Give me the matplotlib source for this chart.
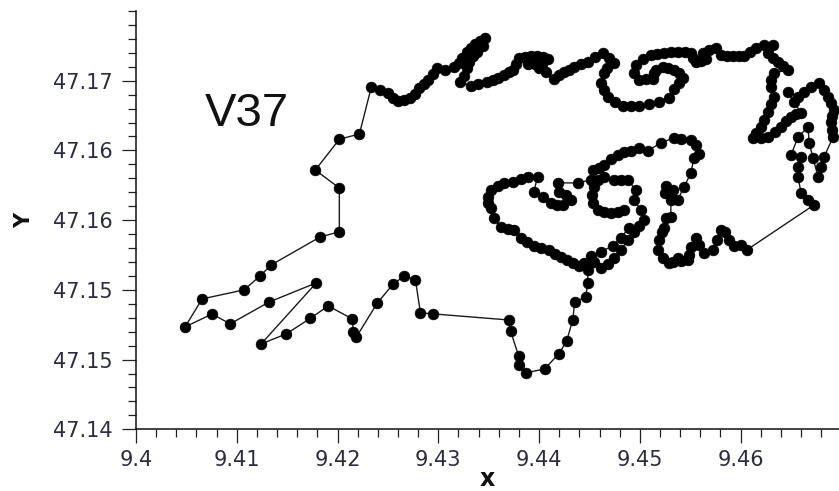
import matplotlib
matplotlib.use('Agg')
import matplotlib.pyplot as plt
from matplotlib.ticker import MultipleLocator, FixedLocator


# ---------------------------------------------------------------------------
# Track V37 (longitude / latitude)
# ---------------------------------------------------------------------------

LON = [
    9.44841, 9.44781, 9.44711, 9.44642, 9.44582, 9.44533, 9.44523, 9.44542,
    9.44582, 9.44642, 9.44741, 9.44811, 9.44880, 9.44960, 9.44940, 9.45010,
    9.45039, 9.44990, 9.44940, 9.44880, 9.44811, 9.44741, 9.44682, 9.44612,
    9.44542, 9.44483, 9.44483, 9.44463, 9.44354, 9.44334, 9.44274, 9.44195,
    9.44055, 9.43867, 9.43797, 9.43797, 9.43717, 9.43698, 9.42952, 9.42823,
    9.42773, 9.42664, 9.42554, 9.42395, 9.42187, 9.42157, 9.42147, 9.41908,
    9.41729, 9.41491, 9.41242, 9.41789, 9.41322, 9.40934, 9.40755, 9.40487,
    9.40656, 9.41073, 9.41232, 9.41342, 9.41829, 9.42018, 9.42018, 9.41779,
    9.42018, 9.42217, 9.42336,
    # top edge, heading east
    9.42425, 9.42505, 9.42554, 9.42604, 9.42664, 9.42723, 9.42773, 9.42813,
    9.42863, 9.42902, 9.42952, 9.42992, 9.43071, 9.43151, 9.43201, 9.43240,
    9.43280, 9.43320, 9.43360, 9.43409, 9.43459, 9.43439, 9.43389, 9.43340,
    9.43300, 9.43280, 9.43260, 9.43220, 9.43320, 9.43399, 9.43479, 9.43539,
    9.43588, 9.43648, 9.43698, 9.43737, 9.43767, 9.43797, 9.43857, 9.43916,
    9.43976, 9.44036, 9.44085, 9.44026, 9.43956, 9.43886, 9.43996, 9.44065,
    9.44145, 9.44195, 9.44244, 9.44294, 9.44344, 9.44413, 9.44483, 9.44552,
    9.44632, 9.44692, 9.44741, 9.44672, 9.44642, 9.44612, 9.44642, 9.44682,
    9.44751, 9.44831, 9.44910, 9.44990, 9.45089, 9.45189, 9.45288, 9.45338,
    9.45387, 9.45427, 9.45387, 9.45338, 9.45278, 9.45228, 9.45159, 9.45139,
    9.45129, 9.45059, 9.44990, 9.44940, 9.44960, 9.45029, 9.45109, 9.45169,
    9.45238, 9.45308, 9.45377, 9.45447, 9.45507, 9.45527, 9.45556, 9.45606,
    9.45656, 9.45626, 9.45686, 9.45755, 9.45805, 9.45864, 9.45924, 9.45984,
    9.46033, 9.46093, 9.46153, 9.46232, 9.46322, 9.46272, 9.46322, 9.46371,
    9.46421, 9.46471, 9.46332, 9.46302, 9.46302, 9.46332, 9.46302, 9.46272,
    9.46232, 9.46202, 9.46153, 9.46123, 9.46202, 9.46272, 9.46342, 9.46401,
    9.46451, 9.46501, 9.46550, 9.46600, 9.46530, 9.46471, 9.46570, 9.46630,
    9.46699, 9.46779, 9.46829, 9.46868, 9.46898, 9.46928, 9.46908, 9.46898,
    9.46908, 9.46918, 9.46829, 9.46799, 9.46769, 9.46719, 9.46680, 9.46670,
    9.46570, 9.46501, 9.46600, 9.46570, 9.46570, 9.46600, 9.46670, 9.46729,
    # bottom right wiggle and middle loops
    9.46063, 9.46004, 9.45934, 9.45884, 9.45845, 9.45805, 9.45765, 9.45725,
    9.45636, 9.45586, 9.45556, 9.45507, 9.45487, 9.45477, 9.45407, 9.45377,
    9.45328, 9.45288, 9.45228, 9.45179, 9.45189, 9.45218, 9.45238, 9.45258,
    9.45308, 9.45308, 9.45248, 9.45258, 9.45328, 9.45377, 9.45437, 9.45507,
    9.45536, 9.45586, 9.45556, 9.45507, 9.45407, 9.45338, 9.45208, 9.45079,
    9.44990, 9.44910, 9.44841, 9.44781, 9.44711, 9.44642, 9.44592, 9.44533,
    9.44513, 9.44384, 9.44185, 9.44195, 9.44264, 9.44314, 9.44234, 9.44175,
    9.44115, 9.44036, 9.43946, 9.43986, 9.43886, 9.43817, 9.43737, 9.43648,
    9.43588, 9.43519, 9.43489, 9.43489, 9.43519, 9.43548, 9.43618, 9.43688,
    9.43747, 9.43817, 9.43876, 9.43946, 9.44016, 9.44095, 9.44155, 9.44215,
    9.44274, 9.44334, 9.44394, 9.44444, 9.44513, 9.44612, 9.44731, 9.44811,
    9.44890,
]

LAT = [
    47.15573, 47.15559, 47.15552, 47.15559, 47.15573, 47.15624, 47.15681, 47.15738,
    47.15789, 47.15810, 47.15789, 47.15789, 47.15789, 47.15717, 47.15645, 47.15573,
    47.15502, 47.15459, 47.15416, 47.15358, 47.15287, 47.15229, 47.15186, 47.15157,
    47.15200, 47.15143, 47.15050, 47.14949, 47.14913, 47.14784, 47.14633, 47.14540,
    47.14433, 47.14404, 47.14462, 47.14526, 47.14705, 47.14784, 47.14827, 47.14835,
    47.15071, 47.15100, 47.15043, 47.14906, 47.14662, 47.14698, 47.14791, 47.14885,
    47.14795, 47.14684, 47.14612, 47.15050, 47.14913, 47.14756, 47.14827, 47.14734,
    47.14935, 47.15000, 47.15100, 47.15179, 47.15380, 47.15416, 47.15731, 47.15859,
    47.16080, 47.16118, 47.16456,
    # top edge, heading east
    47.16434, 47.16413, 47.16377, 47.16356, 47.16363, 47.16377, 47.16406, 47.16449,
    47.16477, 47.16506, 47.16549, 47.16592, 47.16578, 47.16599, 47.16628, 47.16664,
    47.16707, 47.16736, 47.16764, 47.16786, 47.16807, 47.16750, 47.16707, 47.16678,
    47.16635, 47.16592, 47.16535, 47.16492, 47.16463, 47.16477, 47.16492, 47.16506,
    47.16520, 47.16542, 47.16563, 47.16578, 47.16620, 47.16664, 47.16671, 47.16678,
    47.16678, 47.16671, 47.16656, 47.16620, 47.16620, 47.16620, 47.16592, 47.16563,
    47.16513, 47.16542, 47.16563, 47.16578, 47.16599, 47.16620, 47.16635, 47.16671,
    47.16700, 47.16664, 47.16628, 47.16592, 47.16556, 47.16485, 47.16434, 47.16384,
    47.16348, 47.16320, 47.16320, 47.16320, 47.16334, 47.16348, 47.16377, 47.16442,
    47.16485, 47.16520, 47.16556, 47.16578, 47.16592, 47.16599, 47.16578, 47.16556,
    47.16513, 47.16513, 47.16506, 47.16556, 47.16613, 47.16656, 47.16685, 47.16693,
    47.16700, 47.16707, 47.16707, 47.16707, 47.16700, 47.16664, 47.16635, 47.16642,
    47.16656, 47.16700, 47.16721, 47.16736, 47.16685, 47.16678, 47.16678, 47.16678,
    47.16678, 47.16707, 47.16736, 47.16757, 47.16757, 47.16700, 47.16664, 47.16635,
    47.16606, 47.16578, 47.16556, 47.16506, 47.16456, 47.16384, 47.16334, 47.16276,
    47.16219, 47.16168, 47.16126, 47.16090, 47.16090, 47.16097, 47.16133, 47.16168,
    47.16212, 47.16241, 47.16262, 47.16269, 47.16348, 47.16420, 47.16384, 47.16420,
    47.16456, 47.16485, 47.16434, 47.16384, 47.16341, 47.16291, 47.16248, 47.16205,
    47.16147, 47.16097, 47.15954, 47.15882, 47.15810, 47.15945, 47.16054, 47.16168,
    47.16097, 47.15968, 47.15954, 47.15882, 47.15810, 47.15695, 47.15645, 47.15609,
    # bottom right wiggle and middle loops
    47.15287, 47.15322, 47.15316, 47.15358, 47.15412, 47.15430, 47.15358, 47.15287,
    47.15265, 47.15322, 47.15373, 47.15308, 47.15251, 47.15216, 47.15209, 47.15229,
    47.15200, 47.15193, 47.15229, 47.15287, 47.15358, 47.15412, 47.15444, 47.15516,
    47.15524, 47.15645, 47.15695, 47.15748, 47.15717, 47.15645, 47.15738, 47.15836,
    47.15945, 47.15971, 47.16038, 47.16076, 47.16080, 47.16090, 47.16054, 47.15998,
    47.16014, 47.15998, 47.15992, 47.15970, 47.15935, 47.15899, 47.15871, 47.15858,
    47.15789, 47.15767, 47.15767, 47.15702, 47.15681, 47.15645, 47.15609, 47.15609,
    47.15624, 47.15667, 47.15702, 47.15810, 47.15810, 47.15796, 47.15774, 47.15767,
    47.15747, 47.15717, 47.15667, 47.15624, 47.15588, 47.15516, 47.15452, 47.15438,
    47.15430, 47.15373, 47.15344, 47.15316, 47.15300, 47.15287, 47.15258, 47.15236,
    47.15216, 47.15193, 47.15172, 47.15193, 47.15244, 47.15272, 47.15316, 47.15373,
    47.15444,
]

LABEL = 'V37'
LABEL_POS = (9.40686, 47.16176)

X_RANGE = (9.40, 9.4698)
Y_RANGE = (47.14, 47.17)
Y_TICKS = [47.140, 47.145, 47.150, 47.155, 47.160, 47.165]
Y_TICK_LABELS = ['47.14', '47.15', '47.15', '47.16', '47.16', '47.17']

TICK_COLOR = '#2b2d3d'


def main():
    fig = plt.figure(figsize=(8.39, 4.91), dpi=100)
    ax = fig.add_axes([0.1621, 0.1257, 0.8383, 0.8519])

    ax.plot(LON, LAT, '-', color='#1a1a1a', linewidth=1.0,
            marker='o', markersize=7.8, markerfacecolor='black',
            markeredgecolor='black', markeredgewidth=0.4)

    ax.text(LABEL_POS[0], LABEL_POS[1], LABEL, fontsize=34,
            family='Liberation Sans', color='#111111', va='baseline', ha='left')

    ax.set_xlim(*X_RANGE)
    ax.set_ylim(*Y_RANGE)

    # axis frame: only left / bottom
    for side in ('top', 'right'):
        ax.spines[side].set_visible(False)
    for side in ('left', 'bottom'):
        ax.spines[side].set_linewidth(1.1)
        ax.spines[side].set_color('#111111')

    ax.xaxis.set_major_locator(MultipleLocator(0.01))
    ax.xaxis.set_minor_locator(MultipleLocator(0.002))
    ax.xaxis.set_major_formatter(plt.FuncFormatter(lambda v, p: f'{v:.2f}'.rstrip('0')))
    ax.yaxis.set_major_locator(FixedLocator(Y_TICKS))
    ax.set_yticklabels(Y_TICK_LABELS)
    ax.yaxis.set_minor_locator(MultipleLocator(0.001))

    ax.tick_params(which='major', length=10, width=0.9, color='#222222',
                   labelsize=15, labelcolor=TICK_COLOR)
    ax.tick_params(which='minor', length=5.5, width=0.9, color='#222222')
    ax.tick_params(axis='y', which='major', pad=7)
    ax.tick_params(axis='x', which='major', pad=5)

    ax.set_xlabel('x', fontsize=17, fontweight='bold', color='#111111', labelpad=-2)
    ax.set_ylabel('Y', fontsize=15, fontweight='bold', color='#111111', labelpad=13)

    fig.savefig('out.png', dpi=100)


if __name__ == '__main__':
    main()
